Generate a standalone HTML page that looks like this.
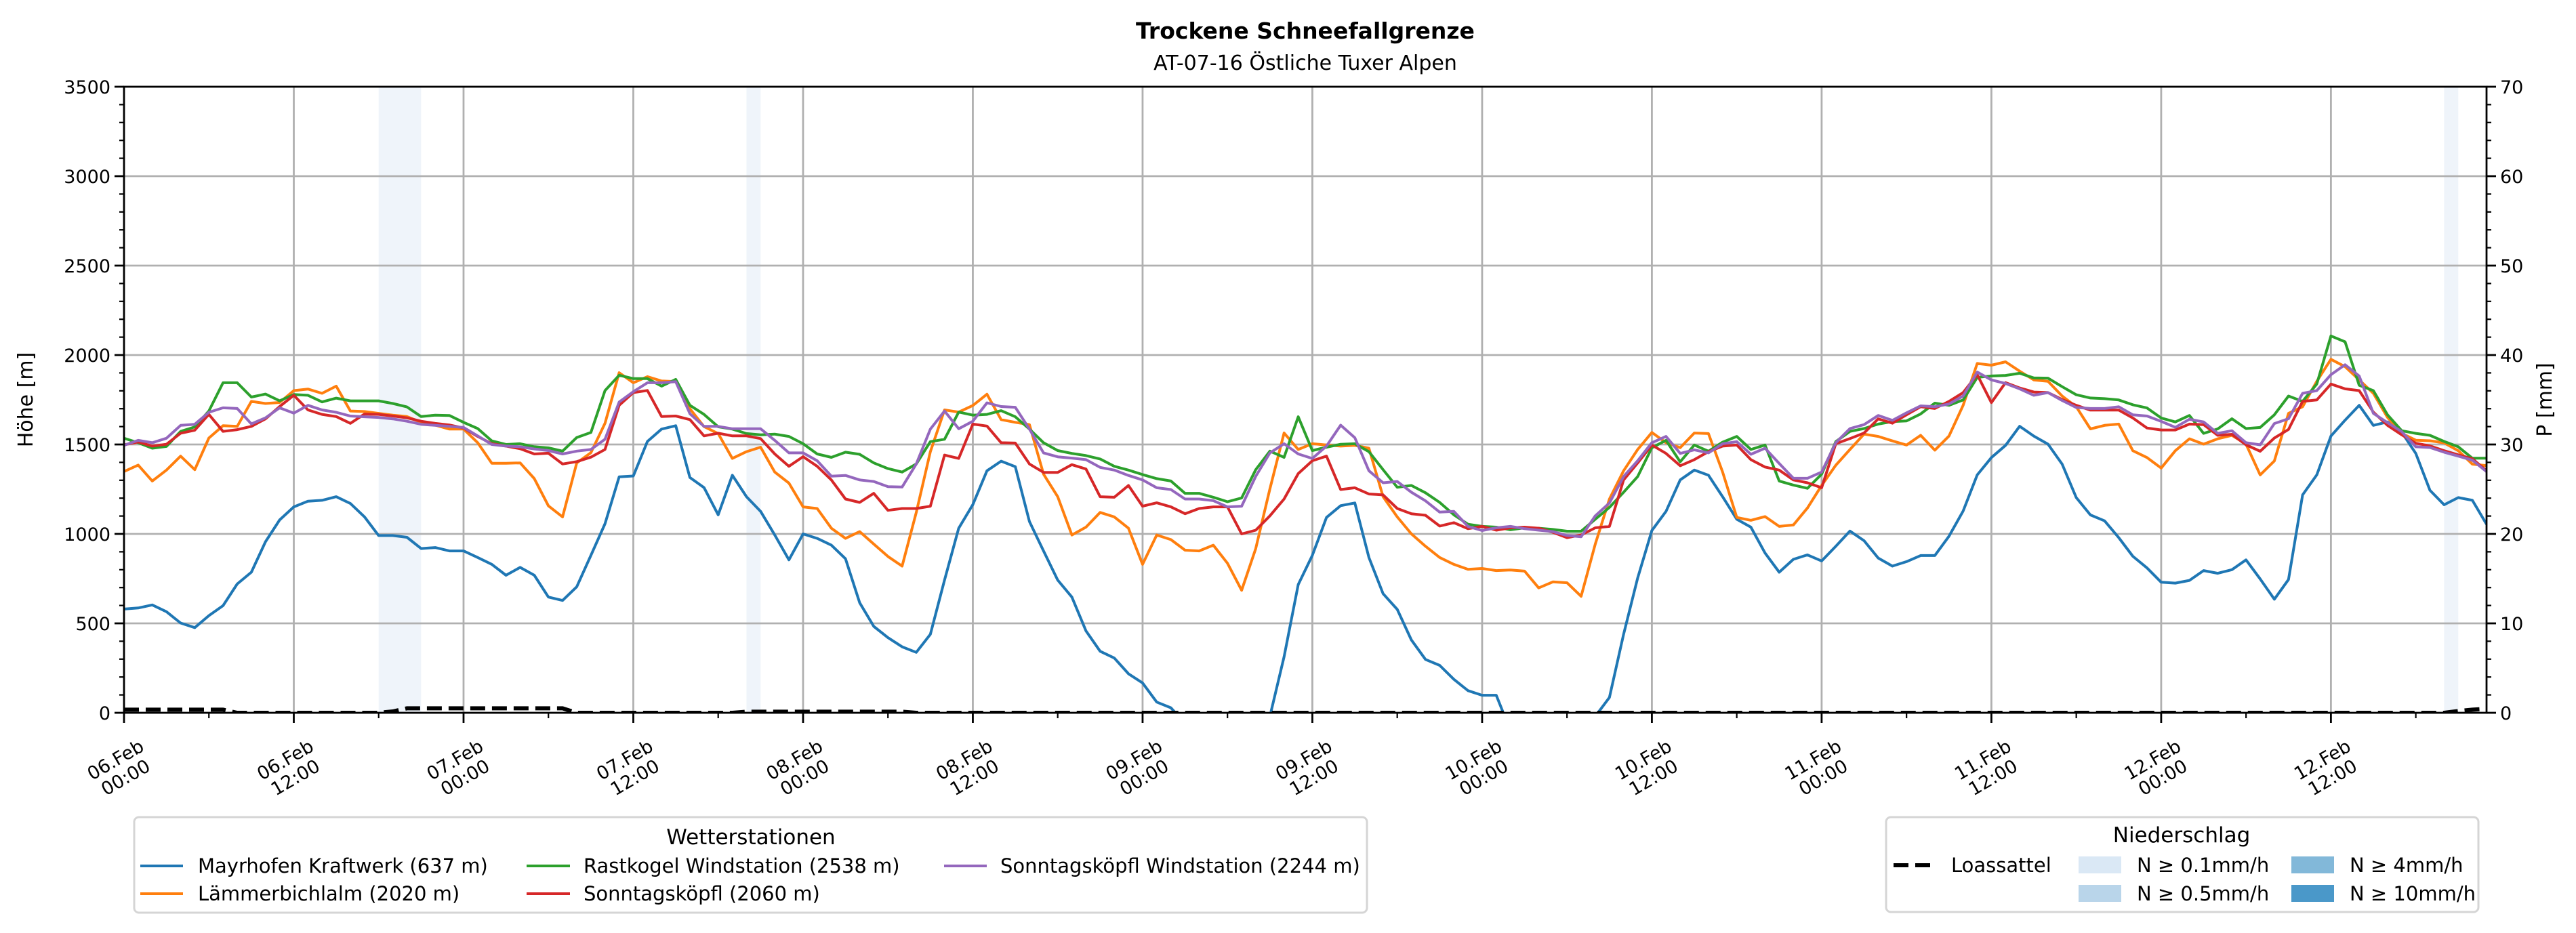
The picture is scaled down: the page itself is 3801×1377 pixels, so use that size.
<!DOCTYPE html>
<html><head><meta charset="utf-8"><title>Trockene Schneefallgrenze</title>
<style>html,body{margin:0;padding:0;background:#fff}svg{display:block}text{font-family:"DejaVu Sans","Liberation Sans",sans-serif;fill:#000}</style>
</head><body>
<svg id="chart" width="3801" height="1377" viewBox="0 0 3801 1377" xmlns="http://www.w3.org/2000/svg">
<defs><clipPath id="plotclip"><rect x="183" y="128" width="3486" height="924"/></clipPath></defs>
<text x="1926" y="57" text-anchor="middle" font-size="33" font-weight="bold">Trockene Schneefallgrenze</text>
<text x="1926" y="103" text-anchor="middle" font-size="30">AT-07-16 Östliche Tuxer Alpen</text>
<g id="bands" clip-path="url(#plotclip)"></g>
<g id="grid"></g>
<g id="series" clip-path="url(#plotclip)"></g>
<g id="axes"></g>
<text transform="translate(48,590) rotate(-90)" text-anchor="middle" font-size="30">Höhe [m]</text>
<text transform="translate(3765,590) rotate(-90)" text-anchor="middle" font-size="30">P [mm]</text>

<g>
<rect x="198" y="1206" width="1819" height="141" rx="7" fill="#fff" stroke="#d5d5d5" stroke-width="3"/>
<text x="1108" y="1246" text-anchor="middle" font-size="31">Wetterstationen</text>
<g><line x1="207" y1="1278" x2="270" y2="1278" stroke="#1f77b4" stroke-width="4"/><text x="292" y="1288" font-size="29">Mayrhofen Kraftwerk (637 m)</text></g>
<g><line x1="207" y1="1319" x2="270" y2="1319" stroke="#ff7f0e" stroke-width="4"/><text x="292" y="1329" font-size="29">Lämmerbichlalm (2020 m)</text></g>
<g><line x1="777" y1="1278" x2="841" y2="1278" stroke="#2ca02c" stroke-width="4"/><text x="861" y="1288" font-size="29">Rastkogel Windstation (2538 m)</text></g>
<g><line x1="777" y1="1319" x2="841" y2="1319" stroke="#d62728" stroke-width="4"/><text x="861" y="1329" font-size="29">Sonntagsköpfl (2060 m)</text></g>
<g><line x1="1393" y1="1278" x2="1456" y2="1278" stroke="#9467bd" stroke-width="4"/><text x="1476" y="1288" font-size="29">Sonntagsköpfl Windstation (2244 m)</text></g>
</g>

<g>
<rect x="2783" y="1206" width="874" height="140" rx="7" fill="#fff" stroke="#d5d5d5" stroke-width="3"/>
<text x="3219" y="1243" text-anchor="middle" font-size="31">Niederschlag</text>
<g><line x1="2794" y1="1277" x2="2850" y2="1277" stroke="#000" stroke-width="6" stroke-dasharray="22,10"/><text x="2879" y="1287" font-size="29">Loassattel</text></g>
<g><rect x="3067" y="1264" width="63" height="25" fill="#dae8f5"/><text x="3153" y="1287" font-size="29">N ≥ 0.1mm/h</text></g>
<g><rect x="3067" y="1306" width="63" height="25" fill="#b9d5ea"/><text x="3153" y="1329" font-size="29">N ≥ 0.5mm/h</text></g>
<g><rect x="3381" y="1264" width="63" height="25" fill="#82b8d9"/><text x="3467" y="1287" font-size="29">N ≥ 4mm/h</text></g>
<g><rect x="3381" y="1306" width="63" height="25" fill="#4a98c9"/><text x="3467" y="1329" font-size="29">N ≥ 10mm/h</text></g>
</g>
</svg>
<script>
// ---- data (hourly, hour 0 = 06.Feb 00:00) ----
const xTickLabelsDay = ["06.Feb","06.Feb","07.Feb","07.Feb","08.Feb","08.Feb","09.Feb","09.Feb","10.Feb","10.Feb","11.Feb","11.Feb","12.Feb","12.Feb"];
const xTickLabelsTime = ["00:00","12:00","00:00","12:00","00:00","12:00","00:00","12:00","00:00","12:00","00:00","12:00","00:00","12:00"];
const yTicks = [0,500,1000,1500,2000,2500,3000,3500];
const y2Ticks = [0,10,20,30,40,50,60,70];
const bandStart = [18,44,164];
const bandEnd = [21,45,165];
const mayrhofen = [580,586,603,565,502,476,543,599,720,786,956,1078,1151,1183,1188,1208,1170,1095,991,991,981,918,924,905,905,868,830,769,813,769,647,628,704,880,1057,1319,1324,1517,1586,1605,1315,1259,1107,1328,1208,1126,994,855,1000,975,937,861,615,483,420,369,338,439,742,1032,1164,1353,1407,1376,1069,905,742,647,458,344,306,218,167,60,28,-60,-300,-300,-300,-300,-300,-20,313,717,880,1092,1158,1173,868,666,578,407,298,265,187,124,98,98,-100,-300,-300,-300,-300,-300,-20,86,439,754,1019,1126,1302,1357,1328,1208,1082,1038,893,786,858,883,849,931,1016,962,865,820,845,879,879,987,1128,1330,1427,1495,1602,1547,1502,1390,1203,1106,1073,979,875,810,730,725,740,795,780,800,855,748,635,745,1218,1330,1547,1636,1719,1607,1626,1569,1450,1244,1163,1203,1188,1054];
const laemmerbichl = [1349,1385,1296,1357,1435,1359,1536,1605,1601,1741,1729,1735,1801,1810,1786,1826,1687,1684,1674,1664,1656,1624,1608,1586,1586,1510,1395,1395,1397,1309,1157,1095,1397,1454,1618,1901,1845,1879,1855,1851,1700,1600,1561,1422,1460,1485,1346,1284,1151,1142,1032,975,1013,943,874,820,1120,1460,1693,1681,1718,1781,1639,1624,1611,1334,1208,994,1038,1120,1095,1032,830,994,968,909,905,937,836,685,918,1252,1564,1472,1504,1497,1491,1495,1479,1208,1095,1000,931,868,830,802,807,795,798,792,698,732,727,651,943,1195,1353,1472,1567,1510,1482,1564,1561,1346,1092,1076,1097,1042,1050,1145,1271,1384,1472,1558,1545,1520,1497,1551,1468,1547,1719,1953,1943,1962,1910,1861,1853,1771,1711,1587,1607,1614,1465,1427,1368,1465,1532,1502,1532,1551,1502,1330,1408,1674,1711,1853,1976,1935,1861,1786,1651,1562,1524,1521,1509,1465,1390,1382];
const rastkogel = [1535,1510,1479,1489,1573,1598,1687,1845,1845,1765,1782,1744,1779,1775,1738,1759,1744,1744,1744,1729,1710,1656,1664,1662,1624,1589,1520,1500,1504,1487,1481,1463,1539,1567,1801,1887,1868,1868,1826,1864,1719,1668,1599,1586,1561,1554,1558,1545,1504,1447,1428,1457,1445,1397,1365,1346,1391,1516,1529,1681,1664,1668,1689,1655,1586,1510,1466,1450,1438,1419,1378,1357,1332,1309,1296,1227,1227,1205,1180,1201,1359,1463,1428,1655,1466,1485,1501,1504,1460,1359,1261,1271,1230,1176,1107,1054,1042,1038,1023,1034,1032,1025,1015,1015,1082,1148,1233,1321,1482,1523,1403,1497,1462,1513,1545,1472,1497,1296,1273,1255,1334,1516,1573,1589,1614,1628,1632,1671,1731,1719,1749,1875,1883,1886,1898,1872,1871,1823,1778,1760,1756,1749,1722,1704,1648,1626,1662,1562,1587,1644,1589,1595,1666,1771,1741,1838,2107,2074,1831,1801,1666,1577,1562,1551,1517,1487,1423,1423];
const sonntagskoepfl = [1498,1514,1491,1501,1563,1580,1668,1573,1583,1601,1643,1712,1775,1693,1668,1656,1618,1670,1668,1659,1649,1630,1618,1609,1592,1545,1504,1491,1476,1447,1451,1391,1404,1429,1472,1719,1790,1802,1656,1659,1639,1548,1563,1548,1548,1533,1447,1378,1432,1378,1302,1195,1176,1227,1132,1142,1142,1155,1441,1422,1614,1603,1510,1508,1391,1344,1344,1387,1363,1208,1205,1271,1155,1174,1151,1113,1142,1151,1151,1000,1021,1101,1195,1337,1409,1435,1248,1258,1223,1218,1142,1113,1104,1044,1063,1029,1042,1021,1034,1038,1032,1009,979,994,1034,1042,1302,1397,1497,1450,1381,1415,1460,1491,1497,1415,1374,1357,1302,1286,1258,1504,1533,1564,1643,1619,1666,1711,1701,1741,1790,1890,1734,1846,1816,1793,1790,1751,1719,1692,1692,1692,1648,1592,1581,1581,1614,1611,1551,1557,1498,1462,1536,1584,1741,1749,1838,1811,1801,1681,1607,1554,1507,1492,1465,1442,1420,1353];
const sonntagsWind = [1495,1523,1510,1535,1607,1613,1680,1705,1701,1615,1649,1705,1675,1719,1693,1680,1659,1655,1651,1643,1630,1613,1607,1601,1595,1548,1500,1491,1487,1475,1466,1447,1463,1472,1529,1737,1795,1845,1845,1851,1672,1601,1601,1588,1588,1588,1523,1453,1453,1409,1323,1327,1302,1293,1264,1262,1391,1586,1687,1588,1630,1733,1712,1708,1586,1453,1431,1424,1415,1372,1357,1327,1302,1258,1248,1195,1195,1186,1151,1155,1322,1453,1504,1447,1422,1491,1608,1538,1353,1286,1293,1233,1185,1122,1126,1042,1019,1034,1042,1029,1021,1013,991,984,1101,1173,1321,1409,1510,1545,1450,1470,1453,1504,1516,1445,1479,1394,1311,1311,1346,1510,1589,1611,1662,1635,1677,1716,1711,1726,1771,1905,1861,1841,1811,1775,1790,1746,1707,1701,1701,1711,1666,1659,1629,1596,1641,1626,1562,1577,1510,1498,1617,1644,1786,1801,1890,1946,1883,1674,1622,1572,1487,1483,1457,1435,1412,1348];
const loassattelPrecip = [
0.35,0.35,0.35,0.35,0.35,0.35,0.35,0.35,0,0,0,0,0,0,0,0,0,0,0,0.15,
0.5,0.5,0.5,0.5,0.5,0.5,0.5,0.5,0.5,0.5,0.5,0.5,0,0,0,0,0,0,0,0,
0,0,0,0,0.12,0.12,0.12,0.12,0.12,0.12,0.12,0.12,0.12,0.12,0.12,0.12,0,0,0,0,
0,0,0,0,0,0,0,0,0,0,0,0,0,0,0,0,0,0,0,0,
0,0,0,0,0,0,0,0,0,0,0,0,0,0,0,0,0,0,0,0,
0,0,0,0,0,0,0,0,0,0,0,0,0,0,0,0,0,0,0,0,
0,0,0,0,0,0,0,0,0,0,0,0,0,0,0,0,0,0,0,0,
0,0,0,0,0,0,0,0,0,0,0,0,0,0,0,0,0,0,0,0,
0,0,0,0,0,0.2,0.35,0.45];

// ---- axes ----
const X0=183, X1=3669, Y0=1052, Y1=128;
const HMAX=167, VMAX=3500, PMAX=70;
const xs = h => X0 + h*(X1-X0)/HMAX;
const ys = v => Y0 - v*(Y0-Y1)/VMAX;
const ys2 = p => Y0 - p*(Y0-Y1)/PMAX;
const NS="http://www.w3.org/2000/svg";
function mk(tag, attrs, parent){const e=document.createElementNS(NS,tag);for(const k in attrs)e.setAttribute(k,attrs[k]);parent.appendChild(e);return e;}

const bands=document.getElementById('bands');
bandStart.forEach((s,i)=>{
  const r=mk('rect',{x:xs(s),y:Y1,width:xs(bandEnd[i])-xs(s),height:Y0-Y1,fill:'#eff4fa'},bands);
  
  
});

const grid=document.getElementById('grid');
const axes=document.getElementById('axes');
yTicks.forEach(v=>{
  if(v>0&&v<VMAX){const g=mk('line',{x1:X0,x2:X1,y1:ys(v),y2:ys(v),stroke:'#b0b0b0','stroke-width':2.8},grid);
  
  }
  mk('line',{x1:X0-14,x2:X0,y1:ys(v),y2:ys(v),stroke:'#000','stroke-width':2.8},axes);
  const t=mk('text',{x:X0-20,y:ys(v)+10,'text-anchor':'end','font-size':27},axes);
  t.textContent=v;
  
  
});
for(let v=100;v<VMAX;v+=100){ if(v%500) mk('line',{x1:X0-7,x2:X0,y1:ys(v),y2:ys(v),stroke:'#000','stroke-width':2.2},axes); }
y2Ticks.forEach(p=>{
  mk('line',{x1:X1,x2:X1+14,y1:ys2(p),y2:ys2(p),stroke:'#000','stroke-width':2.8},axes);
  const t=mk('text',{x:X1+20,y:ys2(p)+10,'font-size':27},axes);
  t.textContent=p;
  
  
});
for(let p=2;p<PMAX;p+=2){ if(p%10) mk('line',{x1:X1,x2:X1+7,y1:ys2(p),y2:ys2(p),stroke:'#000','stroke-width':2.2},axes); }
xTickLabelsDay.forEach((d,i)=>{
  const h=i*12, x=xs(h);
  if(h>0){const g=mk('line',{x1:x,x2:x,y1:Y1,y2:Y0,stroke:'#b0b0b0','stroke-width':2.8},grid);
  
  }
  mk('line',{x1:x,x2:x,y1:Y0,y2:Y0+15,stroke:'#000','stroke-width':2.8},axes);
  mk('line',{x1:xs(h+6),x2:xs(h+6),y1:Y0,y2:Y0+8,stroke:'#000','stroke-width':2.2},axes);
  const t=mk('text',{transform:`translate(${x-6},1133) rotate(-30)`,'text-anchor':'middle','font-size':27},axes);
  
  
  const a=mk('tspan',{x:0,dy:-4},t); a.textContent=d;
  const b=mk('tspan',{x:0,dy:30},t); b.textContent=xTickLabelsTime[i];
});

const seriesG=document.getElementById('series');
const seriesList=[[mayrhofen,'#1f77b4','series-mayrhofen'],[laemmerbichl,'#ff7f0e','series-laemmerbichlalm'],[rastkogel,'#2ca02c','series-rastkogel'],[sonntagskoepfl,'#d62728','series-sonntagskoepfl'],[sonntagsWind,'#9467bd','series-sonntagskoepfl-wind']];
seriesList.forEach(([arr,col,name])=>{
  const d=arr.map((v,h)=>(h?'L':'M')+xs(h).toFixed(1)+','+ys(v).toFixed(1)).join('');
  const p=mk('path',{d:d,fill:'none',stroke:col,'stroke-width':4,'stroke-linejoin':'round'},seriesG);
  
  
});
const pd=loassattelPrecip.map((v,h)=>(h?'L':'M')+xs(h).toFixed(1)+','+ys2(v).toFixed(1)).join('');
const pp=mk('path',{d:pd,fill:'none',stroke:'#000','stroke-width':6,'stroke-dasharray':'22,10'},seriesG);



const frame=mk('rect',{x:X0,y:Y1,width:X1-X0,height:Y0-Y1,fill:'none',stroke:'#000','stroke-width':2.8},axes);


</script>
</body></html>
